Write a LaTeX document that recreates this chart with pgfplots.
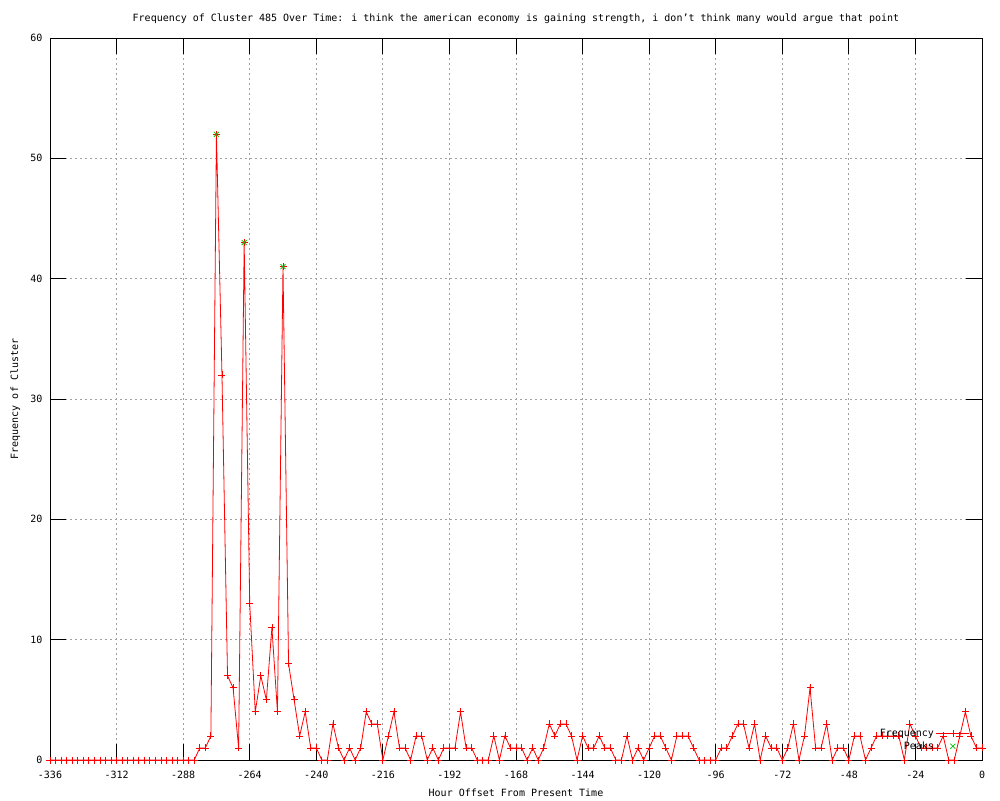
\documentclass[border=0pt]{standalone}
\usepackage{fontspec}
\setmainfont{DejaVu Sans Mono}
\usepackage{pgfplots}
\usepackage{pgfplotstable}
\pgfplotsset{compat=1.18}
\definecolor{gpred}{RGB}{255,0,0}
\definecolor{gpgreen}{RGB}{0,192,0}
\definecolor{gpgrid}{RGB}{160,160,160}
\newcommand{\gpfont}{\fontsize{10pt}{12pt}\selectfont}

\pgfplotstableread{
x y
-336 0
-334 0
-332 0
-330 0
-328 0
-326 0
-324 0
-322 0
-320 0
-318 0
-316 0
-314 0
-312 0
-310 0
-308 0
-306 0
-304 0
-302 0
-300 0
-298 0
-296 0
-294 0
-292 0
-290 0
-288 0
-286 0
-284 0
-282 1
-280 1
-278 2
-276 52
-274 32
-272 7
-270 6
-268 1
-266 43
-264 13
-262 4
-260 7
-258 5
-256 11
-254 4
-252 41
-250 8
-248 5
-246 2
-244 4
-242 1
-240 1
-238 0
-236 0
-234 3
-232 1
-230 0
-228 1
-226 0
-224 1
-222 4
-220 3
-218 3
-216 0
-214 2
-212 4
-210 1
-208 1
-206 0
-204 2
-202 2
-200 0
-198 1
-196 0
-194 1
-192 1
-190 1
-188 4
-186 1
-184 1
-182 0
-180 0
-178 0
-176 2
-174 0
-172 2
-170 1
-168 1
-166 1
-164 0
-162 1
-160 0
-158 1
-156 3
-154 2
-152 3
-150 3
-148 2
-146 0
-144 2
-142 1
-140 1
-138 2
-136 1
-134 1
-132 0
-130 0
-128 2
-126 0
-124 1
-122 0
-120 1
-118 2
-116 2
-114 1
-112 0
-110 2
-108 2
-106 2
-104 1
-102 0
-100 0
-98 0
-96 0
-94 1
-92 1
-90 2
-88 3
-86 3
-84 1
-82 3
-80 0
-78 2
-76 1
-74 1
-72 0
-70 1
-68 3
-66 0
-64 2
-62 6
-60 1
-58 1
-56 3
-54 0
-52 1
-50 1
-48 0
-46 2
-44 2
-42 0
-40 1
-38 2
-36 2
-34 2
-32 2
-30 2
-28 0
-26 3
-24 2
-22 1
-20 1
-18 1
-16 1
-14 2
-12 0
-10 0
-8 2
-6 4
-4 2
-2 1
0 1
}\freqdata

\pgfplotstableread{
x y
-276 52
-266 43
-252 41
}\peakdata

\begin{document}
\begin{tikzpicture}
\useasboundingbox (-50pt,-40pt) rectangle (950pt,760pt);
\begin{axis}[
  at={(0pt,0pt)}, anchor=south west,
  scale only axis, width=932pt, height=722pt,
  xmin=-336, xmax=0, ymin=0, ymax=60,
  xtick={-336,-312,...,0}, ytick={0,10,...,60},
  tick align=inside,
  major tick length=16pt,
  major tick style={black, line width=0.8pt},
  axis line style={black, line width=0.8pt},
  grid=major,
  major grid style={gpgrid, line width=0.8pt, dash pattern=on 2pt off 3pt},
  clip=false,
  /pgf/number format/assume math mode=true,
  ticklabel style={font=\gpfont},
  yticklabel style={xshift=-4pt},
  xticklabel style={yshift=-8pt},
  title={Frequency of Cluster 485 Over Time: i think the american economy is gaining strength, i don't think many would argue that point},
  title style={font=\gpfont, at={(axis description cs:0.5,1.0139)}, anchor=base},
  xlabel={Hour Offset From Present Time},
  xlabel style={font=\gpfont, at={(axis description cs:0.5,-0.0512)}, anchor=base},
  ylabel={Frequency of Cluster},
  ylabel style={font=\gpfont, at={(axis description cs:-0.0343,0.5)}, anchor=base},
  legend plot pos=right,
  legend cell align=right,
  legend image code/.code={\draw[mark repeat=2,mark phase=2,#1] plot coordinates {(0pt,0pt) (16.5pt,0pt) (33pt,0pt)};},
  legend style={font=\gpfont, draw=none, fill=none,
    at={(axis description cs:1,0)}, anchor=south east,
    xshift=-11pt, yshift=6pt, row sep=-0.5pt, inner sep=1pt},
]
\addplot[gpred, line width=0.8pt, mark=+, mark size=3.5pt, mark options={solid, line width=0.8pt}] table[x=x,y=y] {\freqdata};
\addlegendentry{Frequency}
\addplot[gpgreen, only marks, mark=x, mark size=3.5pt, mark options={line width=0.8pt}] table[x=x,y=y] {\peakdata};
\addlegendentry{Peaks}
\end{axis}
\end{tikzpicture}
\end{document}
